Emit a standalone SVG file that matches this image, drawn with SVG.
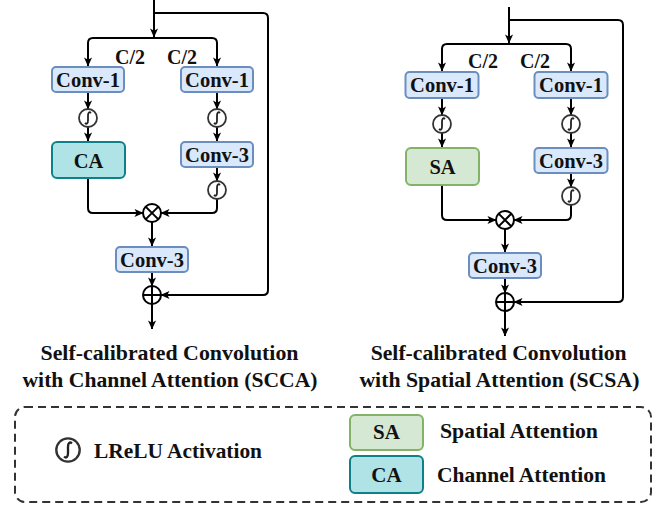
<svg xmlns="http://www.w3.org/2000/svg" xmlns:xlink="http://www.w3.org/1999/xlink" width="665" height="509" viewBox="0 0 665 509">
<defs>
<style>
.conv{fill:#dae8fc;stroke:#6c8ebf;stroke-width:2}
.ca{fill:#b0e3e6;stroke:#0e8088;stroke-width:2}
.sa{fill:#d5e8d4;stroke:#82b366;stroke-width:2}
.lbl{font-family:"Liberation Serif","Times New Roman",serif;font-weight:bold;fill:#111}
.node{font-size:20.5px;text-anchor:middle}
.wire{fill:none;stroke:#000;stroke-width:2}
.arr{marker-end:url(#ah)}
.op{fill:#fff;stroke:#000;stroke-width:2}
.act circle{fill:#fff;stroke:#333;stroke-width:1.8}
.act path{fill:none;stroke:#222;stroke-width:1.8}
</style>
<marker id="ah" viewBox="0 0 10 10" refX="9.5" refY="5" markerWidth="9" markerHeight="9" markerUnits="userSpaceOnUse" orient="auto">
<path d="M0,0.5 L10,5 L0,9.5 L2.5,5 z" fill="#000"/>
</marker>
<g id="actsym" class="act"><circle cx="0" cy="0" r="9"/><path d="M3,-5 C1.5,-6.5 0,-5.5 0,-2.5 V2.5 C0,5.5 -1.5,6.5 -3,5"/></g>
<g id="mul"><circle class="op" cx="0" cy="0" r="9"/><path d="M-6.4,-6.4 L6.4,6.4 M6.4,-6.4 L-6.4,6.4" stroke="#000" stroke-width="2"/></g>
<g id="add"><circle class="op" cx="0" cy="0" r="9"/><path d="M-9,0 H9 M0,-9 V9" stroke="#000" stroke-width="2"/></g>
</defs>
<rect width="665" height="509" fill="#fff"/>

<g id="connectors">
<path class="wire arr" d="M154,0 V37"/>
<path class="wire arr" d="M154,38 H93 Q88,38 88,43 V66"/>
<path class="wire arr" d="M154,38 H212 Q217,38 217,43 V66"/>
<path class="wire arr" d="M154,13 H263 Q268,13 268,18 V290 Q268,295 263,295 H161"/>
<path class="wire arr" d="M88,92 V109"/>
<path class="wire arr" d="M88,127 V141"/>
<path class="wire arr" d="M217,92 V109"/>
<path class="wire arr" d="M217,127 V141"/>
<path class="wire arr" d="M217,167 V181"/>
<path class="wire arr" d="M88,178 V208 Q88,213 93,213 H143"/>
<path class="wire arr" d="M217,199 V208 Q217,213 212,213 H161"/>
<path class="wire arr" d="M152,222 V246"/>
<path class="wire arr" d="M152,272 V286"/>
<path class="wire arr" d="M152,304 V329"/>
<path class="wire arr" d="M509,7 V43"/>
<path class="wire arr" d="M509,44 H447 Q442,44 442,49 V71"/>
<path class="wire arr" d="M509,44 H566 Q571,44 571,49 V71"/>
<path class="wire arr" d="M509,20 H618 Q623,20 623,25 V297 Q623,302 618,302 H514"/>
<path class="wire arr" d="M442,98 V115"/>
<path class="wire arr" d="M442,133 V147"/>
<path class="wire arr" d="M571,98 V115"/>
<path class="wire arr" d="M571,133 V147"/>
<path class="wire arr" d="M571,173 V187"/>
<path class="wire arr" d="M442,185 V215 Q442,220 447,220 H496"/>
<path class="wire arr" d="M571,205 V215 Q571,220 566,220 H514"/>
<path class="wire arr" d="M505,229 V252"/>
<path class="wire arr" d="M505,278 V293"/>
<path class="wire arr" d="M505,311 V336"/>
</g>

<g id="labels-split" class="lbl" font-size="20">
<text x="115" y="64">C/2</text>
<text x="167" y="64">C/2</text>
<text x="468" y="68">C/2</text>
<text x="520" y="68">C/2</text>
</g>

<g id="l-conv1a"><rect class="conv" x="52" y="67" width="72" height="25" rx="4"/><text class="lbl node" x="88" y="86.5">Conv-1</text></g>
<g id="l-conv1b"><rect class="conv" x="181" y="67" width="72" height="25" rx="4"/><text class="lbl node" x="217" y="86.5">Conv-1</text></g>
<g id="l-act1"><use xlink:href="#actsym" x="88" y="118"/></g>
<g id="l-act2"><use xlink:href="#actsym" x="217" y="118"/></g>
<g id="l-ca"><rect class="ca" x="52" y="142" width="73" height="36" rx="5"/><text class="lbl node" x="88.5" y="167.5" font-size="21">CA</text></g>
<g id="l-conv3a"><rect class="conv" x="181" y="142" width="72" height="25" rx="4"/><text class="lbl node" x="217" y="161.5">Conv-3</text></g>
<g id="l-act3"><use xlink:href="#actsym" x="217" y="190"/></g>
<g id="l-mul"><use xlink:href="#mul" x="152" y="213"/></g>
<g id="l-conv3b"><rect class="conv" x="116" y="247" width="72" height="25" rx="4"/><text class="lbl node" x="152" y="266.5">Conv-3</text></g>
<g id="l-add"><use xlink:href="#add" x="152" y="295"/></g>
<g id="l-title" class="lbl" font-size="21.5" text-anchor="middle">
<text x="169.5" y="360" textLength="258" lengthAdjust="spacingAndGlyphs">Self-calibrated Convolution</text>
<text x="170" y="387" textLength="295" lengthAdjust="spacingAndGlyphs">with Channel Attention (SCCA)</text>
</g>

<g id="r-conv1a"><rect class="conv" x="405.5" y="72" width="73" height="26" rx="4"/><text class="lbl node" x="442" y="92">Conv-1</text></g>
<g id="r-conv1b"><rect class="conv" x="534.5" y="72" width="73" height="26" rx="4"/><text class="lbl node" x="571" y="92">Conv-1</text></g>
<g id="r-act1"><use xlink:href="#actsym" x="442" y="124"/></g>
<g id="r-act2"><use xlink:href="#actsym" x="571" y="124"/></g>
<g id="r-sa"><rect class="sa" x="406" y="148" width="73" height="37" rx="5"/><text class="lbl node" x="442.5" y="174" font-size="21">SA</text></g>
<g id="r-conv3a"><rect class="conv" x="534.5" y="148" width="73" height="25" rx="4"/><text class="lbl node" x="571" y="167.5">Conv-3</text></g>
<g id="r-act3"><use xlink:href="#actsym" x="571" y="196"/></g>
<g id="r-mul"><use xlink:href="#mul" x="505" y="220"/></g>
<g id="r-conv3b"><rect class="conv" x="469" y="253" width="72" height="25" rx="4"/><text class="lbl node" x="505" y="272.5">Conv-3</text></g>
<g id="r-add"><use xlink:href="#add" x="505" y="302"/></g>
<g id="r-title" class="lbl" font-size="21.5" text-anchor="middle">
<text x="498.7" y="360" textLength="256" lengthAdjust="spacingAndGlyphs">Self-calibrated Convolution</text>
<text x="499.4" y="387" textLength="280" lengthAdjust="spacingAndGlyphs">with Spatial Attention (SCSA)</text>
</g>

<g id="legend">
<rect x="15" y="407" width="636" height="95" rx="10" fill="none" stroke="#333" stroke-width="2" stroke-dasharray="8 5"/>
<g transform="translate(68 450) scale(1.3)"><use xlink:href="#actsym"/></g>
<text class="lbl" x="94" y="458" font-size="21.5" textLength="168" lengthAdjust="spacingAndGlyphs">LReLU Activation</text>
<rect class="sa" x="350" y="415" width="73" height="35" rx="5"/>
<text class="lbl" x="386.5" y="439" font-size="21" text-anchor="middle">SA</text>
<rect class="ca" x="350" y="456" width="73" height="37" rx="5"/>
<text class="lbl" x="386.5" y="482" font-size="21" text-anchor="middle">CA</text>
<text class="lbl" x="440" y="438" font-size="21.5" textLength="158" lengthAdjust="spacingAndGlyphs">Spatial Attention</text>
<text class="lbl" x="437" y="481.5" font-size="21.5" textLength="169" lengthAdjust="spacingAndGlyphs">Channel Attention</text>
</g>
</svg>
